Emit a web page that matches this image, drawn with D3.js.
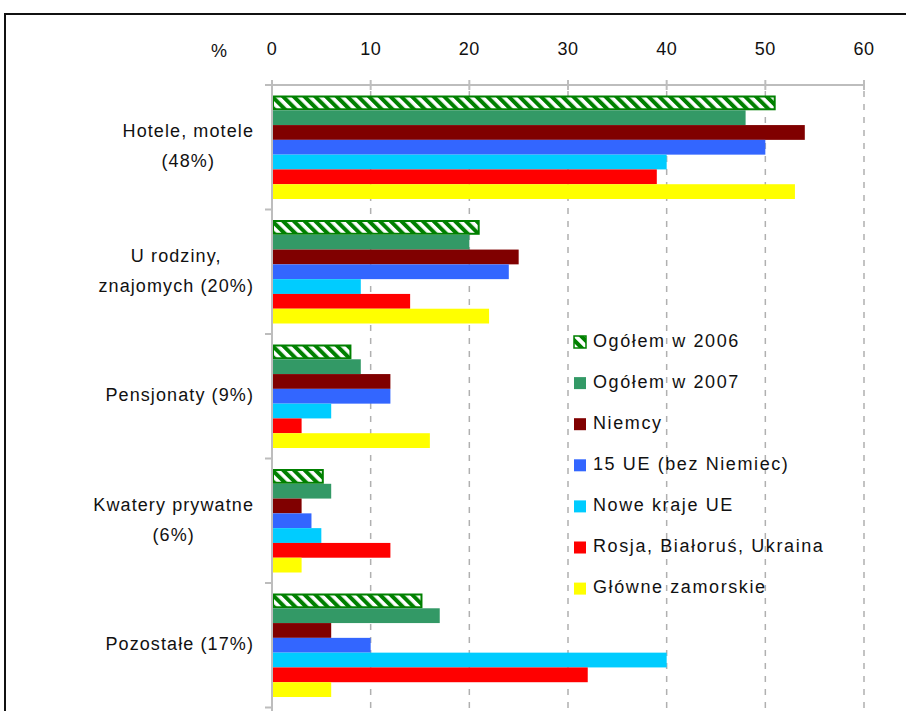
<!DOCTYPE html>
<html>
<head>
<meta charset="utf-8">
<script src="https://cdn.jsdelivr.net/npm/d3@7"></script>
<style>
  html, body { margin: 0; padding: 0; background: #fff; }
  svg { display: block; }
  text { font-family: "Liberation Sans", Arial, sans-serif; fill: #111; }
</style>
</head>
<body>
<script>
// categories (line breaks as in the original labels)
var categories = [
  "Hotele, motele\n(48%)",
  "U rodziny,\nznajomych (20%)",
  "Pensjonaty (9%)",
  "Kwatery prywatne\n(6%)",
  "Pozostałe (17%)"
];

var seriesNames = [
  "Ogółem w 2006",
  "Ogółem w 2007",
  "Niemcy",
  "15 UE (bez Niemiec)",
  "Nowe kraje UE",
  "Rosja, Białoruś, Ukraina",
  "Główne zamorskie"
];

// one array per series, in category order
var ogolem2006 = [51, 21, 8, 5.2, 15.2];
var ogolem2007 = [48, 20, 9, 6, 17];
var niemcy     = [54, 25, 12, 3, 6];
var ue15       = [50, 24, 12, 4, 10];
var noweUE     = [40, 9, 6, 5, 40];
var rosja      = [39, 14, 3, 12, 32];
var zamorskie  = [53, 22, 16, 3, 6];

var seriesValues = [ogolem2006, ogolem2007, niemcy, ue15, noweUE, rosja, zamorskie];
var seriesColors = ["hatch", "#339966", "#800000", "#3366ff", "#00ccff", "#ff0000", "#ffff00"];

var xTicks = [0, 10, 20, 30, 40, 50, 60];

var width = 906, height = 711;

var svg = d3.select("body").append("svg")
  .attr("width", width)
  .attr("height", height);

var defs = svg.append("defs");
var pat = defs.append("pattern")
  .attr("id", "hatch")
  .attr("patternUnits", "userSpaceOnUse")
  .attr("width", 7.6)
  .attr("height", 7.6)
  .attr("patternTransform", "rotate(-45)");
pat.append("rect").attr("width", 7.6).attr("height", 7.6).attr("fill", "#fff");
pat.append("rect").attr("width", 4).attr("height", 7.6).attr("fill", "#008000");

var patSmall = defs.append("pattern")
  .attr("id", "hatchSmall")
  .attr("patternUnits", "userSpaceOnUse")
  .attr("width", 8)
  .attr("height", 8)
  .attr("patternTransform", "rotate(-45)");
patSmall.append("rect").attr("width", 8).attr("height", 8).attr("fill", "#fff");
patSmall.append("rect").attr("width", 4).attr("height", 8).attr("fill", "#008000");

// outer frame
svg.append("rect")
  .attr("x", 5).attr("y", 14)
  .attr("width", 920).attr("height", 720)
  .attr("fill", "none")
  .attr("stroke", "#111")
  .attr("stroke-width", 2);

var x = d3.scaleLinear().domain([0, 60]).range([272, 864]);
var y = d3.scaleBand().domain(d3.range(categories.length)).range([85, 707.5]);
var yInner = d3.scaleBand().domain(d3.range(seriesNames.length)).range([10.5, y.bandwidth() - 10.5]);

// dashed gridlines
svg.append("g").selectAll("line")
  .data(xTicks.filter(function (d) { return d > 0; }))
  .enter().append("line")
  .attr("x1", function (d) { return x(d); })
  .attr("x2", function (d) { return x(d); })
  .attr("y1", 91)
  .attr("y2", height)
  .attr("stroke", "#b0b0b0")
  .attr("stroke-width", 1.5)
  .attr("stroke-dasharray", "6,7");

// bars
var groups = svg.append("g").selectAll("g")
  .data(categories)
  .enter().append("g")
  .attr("transform", function (d, i) { return "translate(0," + y(i) + ")"; });

groups.each(function (cat, ci) {
  var g = d3.select(this);
  seriesValues.forEach(function (vals, si) {
    var hatched = seriesColors[si] === "hatch";
    g.append("rect")
      .attr("x", x(0) + (hatched ? 1 : 0))
      .attr("y", yInner(si) + (hatched ? 1 : 0))
      .attr("width", x(vals[ci]) - x(0) - (hatched ? 1.5 : 0))
      .attr("height", yInner.bandwidth() - (hatched ? 2 : 0))
      .attr("fill", hatched ? "url(#hatch)" : seriesColors[si])
      .attr("stroke", hatched ? "#008000" : "none")
      .attr("stroke-width", hatched ? 2 : 0);
  });
});

// top axis
var axisG = svg.append("g");
axisG.append("line")
  .attr("x1", x(0)).attr("x2", x(60))
  .attr("y1", 85).attr("y2", 85)
  .attr("stroke", "#bdbdbd").attr("stroke-width", 2);
axisG.selectAll(".tk").data(xTicks).enter().append("line")
  .attr("x1", function (d) { return x(d); })
  .attr("x2", function (d) { return x(d); })
  .attr("y1", 80).attr("y2", 90)
  .attr("stroke", "#bdbdbd").attr("stroke-width", 2);
axisG.selectAll(".tl").data(xTicks).enter().append("text")
  .attr("x", function (d) { return x(d); })
  .attr("y", 50)
  .attr("text-anchor", "middle")
  .attr("dominant-baseline", "middle")
  .attr("font-size", 18)
  .attr("letter-spacing", "0.5px")
  .text(function (d) { return d; });

svg.append("text")
  .attr("x", 219).attr("y", 52)
  .attr("text-anchor", "middle")
  .attr("dominant-baseline", "middle")
  .attr("font-size", 18)
  .text("%");

// left axis
var leftG = svg.append("g");
leftG.append("line")
  .attr("x1", x(0)).attr("x2", x(0))
  .attr("y1", 85).attr("y2", height)
  .attr("stroke", "#bdbdbd").attr("stroke-width", 2);
leftG.selectAll("line.tk").data(d3.range(categories.length + 1)).enter().append("line")
  .attr("x1", 265).attr("x2", x(0))
  .attr("y1", function (i) { return 85 + i * y.step(); })
  .attr("y2", function (i) { return 85 + i * y.step(); })
  .attr("stroke", "#bdbdbd").attr("stroke-width", 2);

// category labels: block right-aligned, lines centered within block
var labelRight = 254;
categories.forEach(function (cat, i) {
  var lines = cat.split("\n");
  var cy = y(i) + y.bandwidth() / 2;
  var lineH = 30;
  var texts = lines.map(function (ln, li) {
    return svg.append("text")
      .attr("y", cy + (li - (lines.length - 1) / 2) * lineH)
      .attr("dominant-baseline", "middle")
      .attr("text-anchor", "middle")
      .attr("font-size", 18)
      .attr("letter-spacing", "1.1px")
      .text(ln);
  });
  var maxW = d3.max(texts, function (t) { return t.node().getComputedTextLength(); });
  texts.forEach(function (t) { t.attr("x", labelRight - maxW / 2); });
});

// legend
var legend = svg.append("g").selectAll("g")
  .data(seriesNames)
  .enter().append("g")
  .attr("transform", function (d, i) { return "translate(573," + (342 + i * 41.1) + ")"; });

legend.append("rect")
  .attr("x", 1).attr("y", -6)
  .attr("width", 12).attr("height", 12)
  .attr("fill", function (d, i) { return seriesColors[i] === "hatch" ? "url(#hatchSmall)" : seriesColors[i]; })
  .attr("stroke", function (d, i) { return seriesColors[i] === "hatch" ? "#008000" : "none"; })
  .attr("stroke-width", 1.5);

legend.append("text")
  .attr("x", 20)
  .attr("y", 0)
  .attr("dominant-baseline", "middle")
  .attr("font-size", 18)
  .attr("letter-spacing", "1.6px")
  .text(function (d) { return d; });
</script>
</body>
</html>
